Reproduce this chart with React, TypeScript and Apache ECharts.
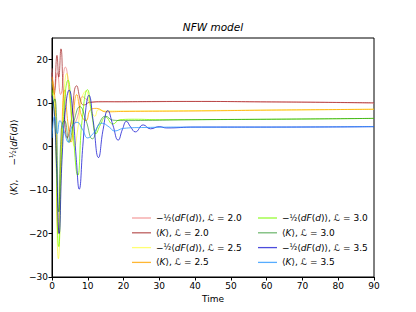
import React, { useEffect, useRef } from "react";
import * as echarts from "echarts";

// [time, value] samples
const dF20: [number, number][] = [[0,18],[0.7,13],[1.5,17],[2.4,12],[3.7,18.3],[5,11],[6,5],[7.2,7],[8.5,11.5],[9.8,10.8],[11,10.2],[13,10.4],[20,10.3],[40,10.4],[60,10.3],[75,10.2],[90,10.0]];
const K20: [number, number][] = [[0,17],[0.6,12],[1.4,21],[1.9,16],[2.5,22.5],[3.2,12],[4.3,2],[5.2,5],[6.9,14],[8.2,10],[9,9.6],[10.5,10.2],[13,10.3],[40,10.4],[60,10.3],[90,10.1]];
const dF25: [number, number][] = [[0,15],[0.8,8],[1.8,-25.8],[2.6,-5],[3.2,10],[4.1,16.8],[5.3,8],[6.3,0],[7.2,4],[8.3,11],[9.5,12.8],[10.8,9],[12,7],[13,8.5],[15,8.2],[20,8.2],[40,8.3],[60,8.4],[90,8.6]];
const K25: [number, number][] = [[0,16],[0.9,10],[1.7,-20],[2.6,0],[3.5,13],[4.5,5],[5.3,1],[6.9,12],[8.3,7],[9.5,6],[10.8,8.5],[12.5,8.8],[15,8.0],[20,8.1],[40,8.2],[60,8.4],[90,8.6]];
const dF30: [number, number][] = [[0,13],[0.8,6],[1.9,-23],[2.8,0],[4.5,15.3],[5.8,4],[7.2,-6.6],[8.4,6],[9.9,13.1],[11.2,7],[12.3,3],[13.5,5],[15,6.8],[17,5.2],[19,6.2],[23,6.3],[30,6.2],[60,6.3],[90,6.5]];
const K30: [number, number][] = [[0,9],[0.8,11],[1.9,-15],[2.6,4],[3.5,6],[4.8,1],[6.2,6],[7.8,9.2],[9.5,6],[11.3,1.8],[13,5],[15,7],[17,6.1],[20,6.0],[40,6.2],[60,6.3],[90,6.5]];
const dF35: [number, number][] = [[0,11.7],[0.6,8],[1.3,-5],[2,-20],[2.8,-3],[3.8,9],[4.8,13],[5.8,8],[6.8,-3],[7.6,-9.8],[8.6,0],[9.5,9],[10.3,11.8],[11.5,6],[13,-2.5],[14.3,4],[15.6,8.3],[17,5],[18.5,1.5],[19.7,4],[20.8,5.8],[22,4.5],[23.3,3.4],[25.5,5],[27.5,4.1],[30,4.6],[32,4.3],[40,4.5],[60,4.5],[90,4.6]];
const K35: [number, number][] = [[0,2],[0.7,7],[1.5,3],[2.2,6],[3.2,4],[4.6,1],[5.5,4.5],[7,5.6],[8.5,4],[10,2.0],[11.5,3],[14,5.4],[16,4.5],[17.5,3.6],[20,4.2],[25,4.4],[40,4.5],[60,4.5],[90,4.6]];

const names = [
  "−½⟨dF(d)⟩, ℒ = 2.0",
  "⟨K⟩, ℒ = 2.0",
  "−½⟨dF(d)⟩, ℒ = 2.5",
  "⟨K⟩, ℒ = 2.5",
  "−½⟨dF(d)⟩, ℒ = 3.0",
  "⟨K⟩, ℒ = 3.0",
  "−½⟨dF(d)⟩, ℒ = 3.5",
  "⟨K⟩, ℒ = 3.5",
];
const colors = [
  "rgba(240,128,128,0.75)",
  "rgba(165,42,42,0.75)",
  "rgba(255,255,0,0.55)",
  "rgba(255,165,0,0.8)",
  "rgba(124,252,0,0.8)",
  "rgba(0,128,0,0.55)",
  "rgba(0,0,205,0.7)",
  "rgba(30,144,255,0.75)",
];
const seriesData = [dF20, K20, dF25, K25, dF30, K30, dF35, K35];
const xTicks = [0, 10, 20, 30, 40, 50, 60, 70, 80, 90];
const yTicks = [-30, -20, -10, 0, 10, 20];

const FONT = "DejaVu Sans";

function legendFormatter(name: string): string {
  const lv = name.slice(-3);
  if (name.startsWith("−½")) return `−{h|½}⟨{i|dF}({i|d})⟩, {i|ℒ} = ${lv}`;
  return `⟨{i|K}⟩, {i|ℒ} = ${lv}`;
}

const rich = {
  i: { fontStyle: "italic", fontFamily: FONT, fontSize: 9, color: "#000" },
  h: { fontFamily: FONT, fontSize: 8, color: "#000" },
};

export default function App() {
  const ref = useRef<HTMLDivElement>(null);
  useEffect(() => {
    document.body.style.margin = "0";
    const chart = echarts.init(ref.current!, null, { renderer: "svg" });
    const legendCommon = {
      orient: "vertical" as const,
      icon: "rect",
      padding: 0,
      itemWidth: 19,
      itemHeight: 1.3,
      itemGap: 5.8,
      textStyle: { fontFamily: FONT, fontSize: 9, color: "#000", rich },
      formatter: legendFormatter,
    };
    chart.setOption({
      animation: false,
      backgroundColor: "#fff",
      grid: { left: 52, right: 42, top: 38, bottom: 35, show: true, borderColor: "#000", borderWidth: 1, backgroundColor: "transparent" },
      graphic: [
        {
          type: "text",
          x: 213,
          y: 27,
          style: { text: "NFW model", fontFamily: FONT, fontStyle: "italic", fontSize: 10.5, fill: "#000", align: "center", verticalAlign: "middle" },
        },
      ],
      legend: [
        { ...legendCommon, left: 132, top: 213.5, data: names.slice(0, 4) },
        { ...legendCommon, left: 258, top: 213.5, data: names.slice(4, 8) },
      ],
      xAxis: {
        type: "value",
        min: 0,
        max: 90,
        interval: 10,
        name: "Time",
        nameLocation: "middle",
        nameGap: 17,
        nameTextStyle: { fontFamily: FONT, fontSize: 9, color: "#000" },
        axisLine: { onZero: false, lineStyle: { color: "#000", width: 1 } },
        axisTick: { length: 3.5, lineStyle: { color: "#000" }, customValues: xTicks },
        axisLabel: { fontFamily: FONT, fontSize: 9, color: "#000", margin: 4, customValues: xTicks },
        splitLine: { show: false },
      },
      yAxis: {
        type: "value",
        min: -30,
        max: 25,
        interval: 10,
        name: "⟨{i|K}⟩,     −{h|½}⟨{i|dF}({i|d})⟩",
        nameLocation: "middle",
        nameRotate: 90,
        nameGap: 32,
        nameTextStyle: { fontFamily: FONT, fontSize: 9, color: "#000", rich },
        axisLine: { onZero: false, lineStyle: { color: "#000", width: 1 } },
        axisTick: { length: 3.5, lineStyle: { color: "#000" }, customValues: yTicks },
        axisLabel: { fontFamily: FONT, fontSize: 9, color: "#000", margin: 4, customValues: yTicks, formatter: (v: number) => (v < 0 ? "−" + Math.abs(v) : String(v)) },
        splitLine: { show: false },
      },
      series: seriesData.map((d, k) => ({
        type: "line",
        name: names[k],
        data: d,
        smooth: 0.5,
        symbol: "none",
        color: colors[k],
        lineStyle: { width: 1, color: colors[k] },
        z: 2 + k,
      })),
    });
    return () => chart.dispose();
  }, []);
  return <div ref={ref} style={{ width: 416, height: 312 }} />;
}
